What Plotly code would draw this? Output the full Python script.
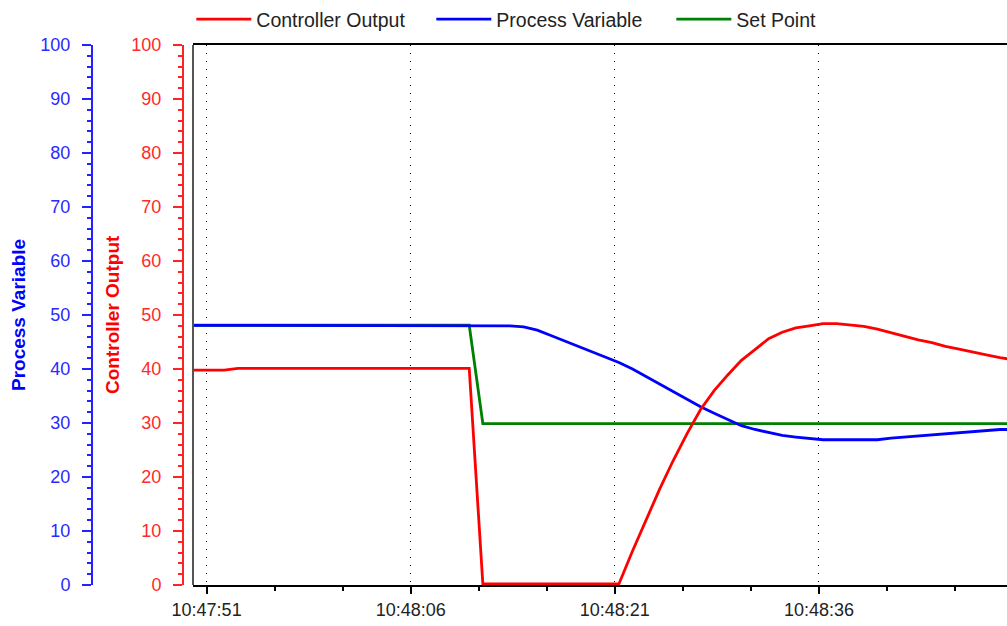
import plotly.graph_objects as go
import pandas as pd

# ---------------- data ----------------
sample_times = pd.date_range("2024-01-01 10:47:49.3", periods=62, freq="1s")

controller_output = [
    39.8, 39.8, 39.8, 39.8,
    40.1, 40.1, 40.1, 40.1, 40.1, 40.1, 40.1, 40.1, 40.1, 40.1, 40.1, 40.1, 40.1, 40.1, 40.1, 40.1, 40.1, 40.1,
    0.2, 0.2, 0.2, 0.2, 0.2, 0.2, 0.2, 0.2, 0.2, 0.2, 0.2,
    6.3, 12.1, 17.8, 23.1, 28.0, 32.5, 36.0, 38.9, 41.6, 43.6, 45.6, 46.8, 47.6, 48.0, 48.4, 48.4,
    48.2, 47.9, 47.4, 46.7, 46.0, 45.4, 44.9, 44.2, 43.7, 43.1, 42.6, 42.1, 41.7,
]

process_variable = [
    48.1, 48.1, 48.1, 48.1, 48.1, 48.1, 48.1, 48.1, 48.1, 48.1, 48.1, 48.1,
    48.1, 48.1, 48.1, 48.1, 48.1, 48.1, 48.1, 48.1, 48.1, 48.1, 48.1, 48.1,
    48.0, 47.8, 47.2, 46.2, 45.2, 44.3, 43.3, 42.3, 41.2, 40.0, 38.6, 37.1, 35.7, 34.3, 33.0,
    31.8, 30.6, 29.5, 28.8, 28.3, 27.7, 27.4, 27.1, 26.9, 26.9, 26.9, 26.9, 26.9,
    27.2, 27.4, 27.6, 27.9, 28.1, 28.3, 28.5, 28.7, 28.8, 28.8,
]

set_point = [
    48.1, 48.1, 48.1, 48.1, 48.1, 48.1, 48.1, 48.1, 48.1, 48.1, 48.1,
    48.1, 48.1, 48.1, 48.1, 48.1, 48.1, 48.1, 48.1, 48.1, 48.1, 48.1,
    29.9, 29.9, 29.9, 29.9, 29.9, 29.9, 29.9, 29.9, 29.9, 29.9,
    29.9, 29.9, 29.9, 29.9, 29.9, 29.9, 29.9, 29.9, 29.9, 29.9,
    29.9, 29.9, 29.9, 29.9, 29.9, 29.9, 29.9, 29.9, 29.9, 29.9,
    29.9, 29.9, 29.9, 29.9, 29.9, 29.9, 29.9, 29.9, 29.9, 29.9,
]

x_range = ["2024-01-01 10:47:50", "2024-01-01 10:48:49.82"]
x_tick0 = "2024-01-01 10:47:51"
y_range = [0, 100]

series_names = ["Controller Output", "Process Variable", "Set Point"]
axis_titles = ["Process Variable", "Controller Output"]

# ---------------- style ----------------
W, H = 1007, 626
X0 = 193 / W
FONT = "Liberation Sans, Arial, sans-serif"
RED = "#FF0000"
BLUE = "#0000FF"
GREEN = "#008000"
RED_TXT = "#FF2A2A"
BLUE_TXT = "#2A2AFF"
LW = 2.8

fig = go.Figure()
fig.add_trace(go.Scatter(x=sample_times, y=set_point, name=series_names[2], mode="lines",
                         line=dict(color=GREEN, width=LW), yaxis="y", legendrank=3))
fig.add_trace(go.Scatter(x=sample_times, y=process_variable, name=series_names[1], mode="lines",
                         line=dict(color=BLUE, width=LW), yaxis="y", legendrank=2))
fig.add_trace(go.Scatter(x=sample_times, y=controller_output, name=series_names[0], mode="lines",
                         line=dict(color=RED, width=LW), yaxis="y2", legendrank=1))


def yaxis_style(color, txt, pos):
    return dict(
        range=y_range, anchor="free", position=pos, side="left",
        showline=True, linecolor=color, linewidth=2,
        ticks="outside", ticklen=9, tickwidth=2, tickcolor=color, dtick=10, tick0=0,
        minor=dict(dtick=2, tick0=0, ticks="outside", ticklen=4, tickwidth=2, tickcolor=color, showgrid=False),
        tickfont=dict(family=FONT, size=18, color=txt),
        ticklabelstandoff=8, automargin=False,
        showgrid=False, zeroline=False, fixedrange=True,
    )


fig.update_layout(
    width=W, height=H,
    margin=dict(l=0, r=0, t=45, b=41, pad=0, autoexpand=False),
    paper_bgcolor="white", plot_bgcolor="white",
    font=dict(family=FONT, size=18, color="#222222"),
    showlegend=True,
    legend=dict(orientation="h", x=0.190, xanchor="left", y=1.0, yref="container", yanchor="top",
                font=dict(family=FONT, size=19.5, color="#222222"), bgcolor="rgba(0,0,0,0)",
                traceorder="normal", itemwidth=55, entrywidth=170, entrywidthmode="pixels"),
    xaxis=dict(
        type="date", domain=[X0, 1], range=x_range, anchor="y",
        tick0=x_tick0, dtick=15000, tickformat="%H:%M:%S",
        ticks="outside", ticklen=7, tickwidth=1.5, tickcolor="black",
        minor=dict(tick0=x_tick0, dtick=5000, ticks="outside", ticklen=4, tickwidth=1.5,
                   tickcolor="black", showgrid=False),
        showline=True, linecolor="black", linewidth=2, mirror=True,
        showgrid=True, gridcolor="black", gridwidth=1, griddash="1px,7px",
        tickfont=dict(family=FONT, size=18, color="#222222"),
        zeroline=False, fixedrange=True, automargin=False,
    ),
    xaxis2=dict(
        type="date", overlaying="x", domain=[X0, 1], range=x_range, anchor="y", side="bottom",
        tick0=x_tick0, dtick=15000, ticks="inside", ticklen=6, tickwidth=1.5, tickcolor="black",
        minor=dict(tick0=x_tick0, dtick=5000, ticks="inside", ticklen=3, tickwidth=1.5,
                   tickcolor="black", showgrid=False),
        showticklabels=False, showline=False, showgrid=False, zeroline=False, fixedrange=True,
        automargin=False,
    ),
    yaxis=yaxis_style("#2222FF", BLUE_TXT, 92 / W),
    yaxis2={**yaxis_style("#FF2222", RED_TXT, 183 / W), "overlaying": "y"},
    shapes=[dict(type="line", xref="paper", yref="paper", x0=X0, x1=X0, y0=0, y1=1,
                 line=dict(color="#555555", width=2))],
    annotations=[
        dict(text="<b>" + axis_titles[0] + "</b>", xref="paper", yref="paper", x=18 / W, y=0.5,
             xanchor="center", yanchor="middle", textangle=-90, showarrow=False,
             font=dict(family=FONT, size=19, color=BLUE)),
        dict(text="<b>" + axis_titles[1] + "</b>", xref="paper", yref="paper", x=112 / W, y=0.5,
             xanchor="center", yanchor="middle", textangle=-90, showarrow=False,
             font=dict(family=FONT, size=19, color=RED)),
    ],
)

fig.write_html("out.html", config={"displayModeBar": False},
               post_script="document.body.style.margin='0';document.body.style.overflow='hidden';")
